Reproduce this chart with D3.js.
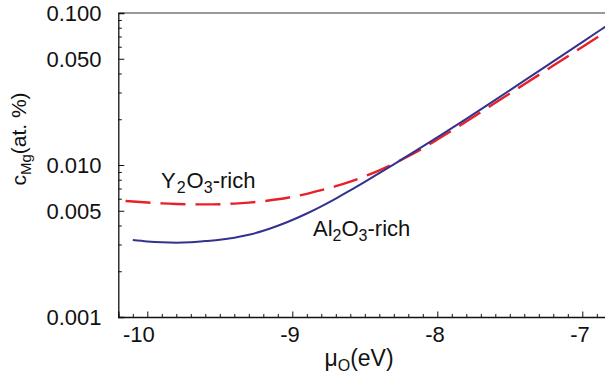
<!DOCTYPE html>
<html><head><meta charset="utf-8">
<script src="https://cdn.jsdelivr.net/npm/d3@7"></script>
<style>
html,body{margin:0;padding:0;background:#fff;}
text{font-family:"Liberation Sans",Arial,sans-serif;fill:#111;}
</style></head>
<body><svg id="c" width="605" height="379"></svg>
<script>
// μO (eV) sample positions and Mg concentrations (at. %)
const muAl = [-10.1, -10.0, -9.9, -9.8, -9.7, -9.6, -9.5, -9.4, -9.3, -9.2, -9.1, -9.0, -8.9, -8.8, -8.7, -8.6, -8.5, -8.4, -8.3, -8.2, -8.1, -8.0, -7.9, -7.8, -7.6, -7.4, -7.2, -7.0, -6.84];
const cAl  = [0.003210, 0.003144, 0.003100, 0.003082, 0.003105, 0.003162, 0.003220, 0.003320, 0.003474, 0.003690, 0.003981, 0.004347, 0.004797, 0.005350, 0.006018, 0.006818, 0.007750, 0.008845, 0.010107, 0.011567, 0.013256, 0.015212, 0.017489, 0.020134, 0.026817, 0.035856, 0.048032, 0.064365, 0.081371];
const muY  = [-10.15, -10.1, -10.0, -9.9, -9.8, -9.7, -9.6, -9.5, -9.4, -9.3, -9.2, -9.1, -9.0, -8.9, -8.8, -8.7, -8.6, -8.5, -8.4, -8.3, -8.2, -8.1, -8.0, -7.9, -7.8, -7.6, -7.4, -7.2, -7.0, -6.84];
const cY   = [0.005797, 0.005752, 0.005666, 0.005590, 0.005539, 0.005513, 0.005506, 0.005522, 0.005573, 0.005657, 0.005779, 0.005948, 0.006178, 0.006464, 0.006827, 0.007253, 0.007773, 0.008425, 0.009229, 0.010214, 0.011408, 0.012879, 0.014693, 0.016837, 0.019353, 0.025656, 0.034003, 0.045076, 0.059748, 0.074837];
const yMajor = [0.001, 0.005, 0.01, 0.05, 0.1];
const yMajorLabels = ["0.001", "0.005", "0.010", "0.050", "0.100"];
const xMajor = [-10, -9, -8, -7];
const xMajorLabels = ["-10", "-9", "-8", "-7"];

const svg = d3.select("#c");
const x = d3.scaleLinear().domain([-10.2, -6.8]).range([118.3, 611.3]);
const y = d3.scaleLog().domain([0.001, 0.1]).range([317, 13]);

svg.append("clipPath").attr("id","clip").append("rect")
  .attr("x", x(-10.2)).attr("y", y(0.1)).attr("width", x(-6.8)-x(-10.2)).attr("height", y(0.001)-y(0.1));

// top border
svg.append("line").attr("x1", x(-10.2)).attr("x2", 605).attr("y1", y(0.1)).attr("y2", y(0.1))
  .attr("stroke", "#777").attr("stroke-width", 1.5);

// y axis
const yMinor = [];
[0.001, 0.01].forEach(d => { for (let k = 2; k <= 9; k++) yMinor.push(d * k); });
svg.append("g").attr("transform", `translate(${x(-10.2)},0)`)
  .call(d3.axisRight(y).tickValues(yMinor.filter(v => !yMajor.some(m => Math.abs(m - v) < 1e-9))).tickSize(3.5).tickFormat(""))
  .call(g => g.select(".domain").remove()).selectAll("line").attr("stroke", "#111");
svg.append("g").attr("transform", `translate(${x(-10.2)},0)`)
  .call(d3.axisRight(y).tickValues(yMajor).tickSize(6).tickFormat(""))
  .call(g => g.select(".domain").attr("stroke", "#111").attr("stroke-width", 1.3))
  .selectAll("line").attr("stroke", "#111");
svg.append("g").selectAll("text").data(yMajor).join("text")
  .attr("x", 101.5).attr("y", d => y(d)).attr("dy", "0.36em")
  .attr("text-anchor", "end").style("font-size", "22px")
  .text((d, i) => yMajorLabels[i]);

// x axis
const xMinor = d3.range(-102, -67).map(v => v / 10).filter(v => !xMajor.some(m => Math.abs(m - v) < 1e-9));
svg.append("g").attr("transform", `translate(0,${y(0.001)})`)
  .call(d3.axisTop(x).tickValues(xMinor).tickSize(3).tickFormat(""))
  .call(g => g.select(".domain").remove()).selectAll("line").attr("stroke", "#111");
svg.append("g").attr("transform", `translate(0,${y(0.001)})`)
  .call(d3.axisTop(x).tickValues(xMajor).tickSize(5.5).tickFormat(""))
  .call(g => g.select(".domain").attr("stroke", "#111").attr("stroke-width", 1.3))
  .selectAll("line").attr("stroke", "#111");
svg.append("g").selectAll("text").data(xMajor).join("text")
  .attr("x", d => x(d) + 7.5).attr("y", 342).attr("text-anchor", "end").style("font-size", "22px")
  .text((d, i) => xMajorLabels[i]);

// axis titles
const xt = svg.append("text").attr("x", 359).attr("y", 366).attr("text-anchor", "middle").style("font-size", "23px");
xt.append("tspan").text("\u03bc");
xt.append("tspan").attr("dy", 5).style("font-size", "16px").text("O");
xt.append("tspan").attr("dy", -5).text("(eV)");

const yt = svg.append("text").attr("transform", "translate(26,139) rotate(-90)").attr("text-anchor", "middle").style("font-size", "21px");
yt.append("tspan").text("c");
yt.append("tspan").attr("dy", 5).style("font-size", "15px").text("Mg");
yt.append("tspan").attr("dy", -5).text("(at. %)");

// curves
const line = d3.line().x(d => x(d[0])).y(d => y(d[1])).curve(d3.curveMonotoneX);
const plot = svg.append("g").attr("clip-path", "url(#clip)");
plot.append("path").datum(muY.map((m, i) => [m, cY[i]])).attr("d", line)
  .attr("fill", "none").attr("stroke", "#e8202a").attr("stroke-width", 2.4).attr("stroke-dasharray", "25,10");
plot.append("path").datum(muAl.map((m, i) => [m, cAl[i]])).attr("d", line)
  .attr("fill", "none").attr("stroke", "#33338f").attr("stroke-width", 2);

// annotations
const a1 = svg.append("text").attr("x", 161).attr("y", 188).style("font-size", "22px");
a1.append("tspan").text("Y");
a1.append("tspan").attr("dy", 5).attr("dx", 1).style("font-size", "16px").text("2");
a1.append("tspan").attr("dy", -5).attr("dx", 1).text("O");
a1.append("tspan").attr("dy", 5).style("font-size", "16px").text("3");
a1.append("tspan").attr("dy", -5).text("-rich");

const a2 = svg.append("text").attr("x", 313).attr("y", 236).style("font-size", "22px");
a2.append("tspan").text("Al");
a2.append("tspan").attr("dy", 5).style("font-size", "16px").text("2");
a2.append("tspan").attr("dy", -5).text("O");
a2.append("tspan").attr("dy", 5).style("font-size", "16px").text("3");
a2.append("tspan").attr("dy", -5).text("-rich");
</script></body></html>
